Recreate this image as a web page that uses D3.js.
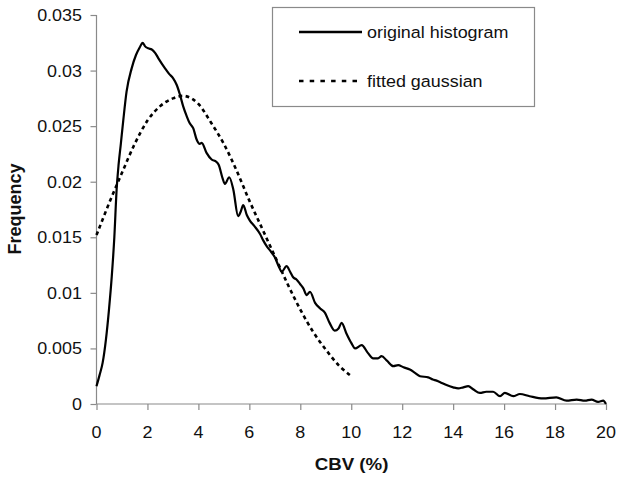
<!DOCTYPE html>
<html>
<head>
<meta charset="utf-8">
<script src="https://cdn.jsdelivr.net/npm/d3@7"></script>
<style>
  html, body { margin: 0; padding: 0; background: #fff; }
  svg { display: block; }
  text { font-family: "Liberation Sans", Arial, sans-serif; fill: #111; }
</style>
</head>
<body>
<script>
// ---- data ----
const histX = [0.00,0.12,0.24,0.37,0.49,0.60,0.70,0.79,0.87,0.95,1.05,1.18,1.38,1.55,1.70,1.81,1.90,2.03,2.17,2.30,2.43,2.69,2.85,3.01,3.15,3.28,3.40,3.54,3.65,3.80,3.93,4.05,4.13,4.32,4.52,4.70,4.80,4.95,5.04,5.21,5.37,5.56,5.66,5.76,5.90,6.02,6.20,6.42,6.55,6.68,6.85,7.00,7.15,7.27,7.46,7.60,7.72,7.85,7.99,8.12,8.25,8.38,8.58,8.78,8.97,9.15,9.35,9.50,9.62,9.82,10.00,10.15,10.41,10.65,10.86,11.05,11.19,11.40,11.65,11.84,12.05,12.30,12.50,12.70,13.02,13.20,13.35,13.55,13.74,14.00,14.20,14.40,14.59,14.80,15.05,15.30,15.57,15.84,16.03,16.36,16.62,17.00,17.53,18.05,18.45,18.85,19.17,19.43,19.69,19.89,20.00];
const histY = [0.0016,0.0026,0.0037,0.0058,0.0085,0.0115,0.0150,0.0193,0.0216,0.0233,0.0255,0.0281,0.0302,0.0314,0.0321,0.0325,0.0322,0.0320,0.0319,0.0316,0.0311,0.0302,0.0297,0.0293,0.0287,0.0278,0.0268,0.0259,0.0253,0.0248,0.0238,0.0234,0.0235,0.0226,0.0220,0.0218,0.0215,0.0203,0.0198,0.0204,0.0193,0.0169,0.0173,0.0179,0.0170,0.0165,0.0160,0.0153,0.0147,0.0142,0.0137,0.0132,0.0124,0.0119,0.0124,0.0119,0.0114,0.0112,0.0108,0.0104,0.0098,0.0101,0.0091,0.0086,0.0082,0.0073,0.0066,0.0068,0.0073,0.0063,0.0055,0.0050,0.0053,0.0046,0.0041,0.0041,0.0043,0.0039,0.0034,0.0035,0.0033,0.0031,0.0028,0.0025,0.0024,0.0022,0.0021,0.0019,0.0017,0.0015,0.0014,0.0015,0.0016,0.0013,0.0010,0.0011,0.0011,0.0007,0.0010,0.0007,0.0009,0.0007,0.0005,0.0006,0.0003,0.0004,0.0003,0.0004,0.0002,0.0003,0.0000];
const gaussX = [0,0.5,1,1.5,2,2.5,3,3.5,4,4.5,5,5.5,6,6.5,7,7.5,8,8.5,9,9.5,10];
const gaussY = [0.0152,0.0181,0.0208,0.0234,0.0255,0.0268,0.0275,0.0277,0.0270,0.0253,0.0234,0.0210,0.0183,0.0158,0.0133,0.0108,0.0085,0.0065,0.0049,0.0035,0.0025];
const xTicks = [0,2,4,6,8,10,12,14,16,18,20];
const yTicks = [0,0.005,0.01,0.015,0.02,0.025,0.03,0.035];
const yTickLabels = ["0","0.005","0.01","0.015","0.02","0.025","0.03","0.035"];
const seriesNames = ["original histogram","fitted gaussian"];
const xTitle = "CBV (%)";
const yTitle = "Frequency";

// ---- layout ----
const W = 624, H = 483;
const svg = d3.select("body").append("svg").attr("width", W).attr("height", H);
const x = d3.scaleLinear().domain([0,20]).range([96.5,606]);
const y = d3.scaleLinear().domain([0,0.035]).range([404,15]);
const axisColor = "#8a8a8a";
const SX = 1.1;

function htext(px, py, str, anchor, size, weight) {
  svg.append("g").attr("transform", `translate(${px},${py}) scale(${SX},1)`)
    .append("text").attr("text-anchor", anchor)
    .style("font-size", size + "px").style("font-weight", weight || "normal")
    .text(str);
}

// y axis
const yAxis = svg.append("g").attr("transform", `translate(${x(0)},0)`)
  .call(d3.axisLeft(y).tickValues(yTicks).tickSize(6).tickFormat(""));
yAxis.selectAll("path,line").attr("stroke", axisColor).attr("stroke-width", 1.2);
yAxis.select(".domain").attr("d", `M0,${y(0.035)}V${y(0)}`);
yTicks.forEach((v,i) => htext(82, y(v)+6, yTickLabels[i], "end", 16.3));

// x axis
const xAxis = svg.append("g").attr("transform", `translate(0,${y(0)})`)
  .call(d3.axisBottom(x).tickValues(xTicks).tickSize(6).tickFormat(""));
xAxis.selectAll("path,line").attr("stroke", axisColor).attr("stroke-width", 1.2);
xAxis.select(".domain").attr("d", `M${x(0)},0H${x(20)}`);
xTicks.forEach(v => htext(x(v), 438, String(v), "middle", 16.3));

// titles
htext(351.5, 470, xTitle, "middle", 17, "bold");
svg.append("text").attr("transform", `translate(21,209) rotate(-90)`)
  .attr("text-anchor", "middle").style("font-size", "18px").style("font-weight", "bold")
  .text(yTitle);

// lines
const line = d3.line().x(d => x(d[0])).y(d => y(d[1])).curve(d3.curveMonotoneX);
const gauss = gaussX.map((v,i) => [v, gaussY[i]]);
const hist = histX.map((v,i) => [v, histY[i]]);
svg.append("path").datum(gauss).attr("d", line.curve(d3.curveCardinal))
  .attr("fill", "none").attr("stroke", "#000").attr("stroke-width", 2.6)
  .attr("stroke-dasharray", "3.8,3.4");
svg.append("path").datum(hist).attr("d", line.curve(d3.curveMonotoneX))
  .attr("fill", "none").attr("stroke", "#000").attr("stroke-width", 2.2)
  .attr("stroke-linejoin", "round");

// legend
const lg = svg.append("g");
lg.append("rect").attr("x", 272.5).attr("y", 7.5).attr("width", 262).attr("height", 99)
  .attr("fill", "#fff").attr("stroke", axisColor).attr("stroke-width", 1.2);
lg.append("line").attr("x1", 299).attr("x2", 362).attr("y1", 32).attr("y2", 32)
  .attr("stroke", "#000").attr("stroke-width", 2.6);
lg.append("line").attr("x1", 299).attr("x2", 357).attr("y1", 81).attr("y2", 81)
  .attr("stroke", "#000").attr("stroke-width", 2.6).attr("stroke-dasharray", "4.5,6.2");
htext(367, 38, seriesNames[0], "start", 16.3);
htext(367, 87, seriesNames[1], "start", 16.3);
</script>
</body>
</html>
